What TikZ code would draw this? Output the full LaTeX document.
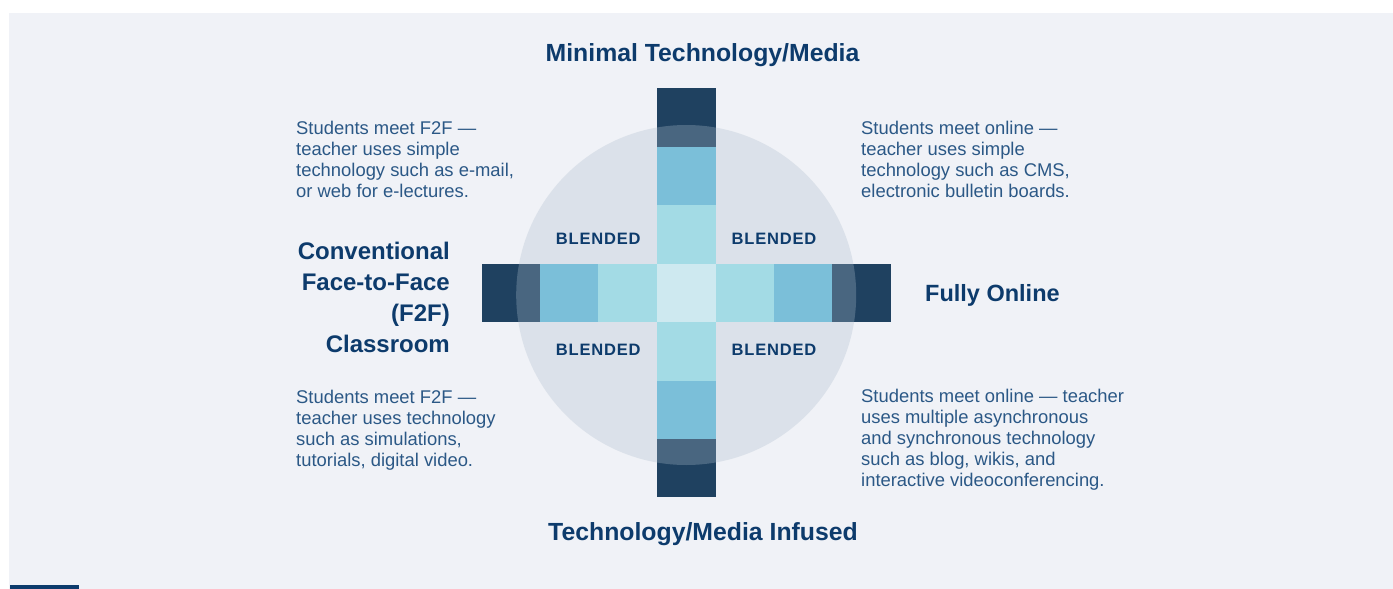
\documentclass[tikz,border=0pt]{standalone}
\usepackage{fontspec}
\setmainfont{Liberation Sans}
\definecolor{panel}{HTML}{F0F2F7}
\definecolor{navy}{HTML}{0D3B6C}
\definecolor{bodytxt}{HTML}{2B5886}
\definecolor{sqdark}{HTML}{1F4160}
\definecolor{sqmed}{HTML}{7BBFD9}
\definecolor{sqlight}{HTML}{A3DBE5}
\definecolor{sqcenter}{HTML}{CEE9F0}
\definecolor{circ}{HTML}{ADBDCC}
\begin{document}
\begin{tikzpicture}[x=1pt,y=-1pt,
  sq/.style={rectangle, minimum size=58.6pt, inner sep=0pt, draw=none},
  title/.style={text=navy, inner sep=0pt, font=\fontsize{24.8}{31}\selectfont\bfseries},
  blend/.style={text=navy, inner sep=0pt, font=\fontsize{16.5}{20}\selectfont\bfseries\addfontfeatures{LetterSpace=5}},
  desc/.style={text=bodytxt, inner sep=0pt, align=left, anchor=base west, font=\fontsize{18.4}{21}\selectfont}]
\useasboundingbox (0,0) rectangle (1393,589);
\fill[white] (0,0) rectangle (1393,589);
\fill[panel] (9,13) rectangle (1393,589);
\fill[navy] (10,585) rectangle (79,589);
% dark end squares
\node[sq, fill=sqdark] (top)    at (686.2,117.45) {};
\node[sq, fill=sqdark] (bottom) at (686.2,468.15) {};
\node[sq, fill=sqdark] (left)   at (510.85,292.8) {};
\node[sq, fill=sqdark] (right)  at (861.55,292.8) {};
% translucent circle
\node[circle, minimum size=340pt, inner sep=0pt, fill=circ, fill opacity=0.3, draw=none] (ring) at (686.2,295) {};
% inner squares
\node[sq, fill=sqmed] (tmed) at (686.2,175.9) {};
\node[sq, fill=sqmed] (bmed) at (686.2,409.7) {};
\node[sq, fill=sqmed] (lmed) at (569.3,292.8) {};
\node[sq, fill=sqmed] (rmed) at (803.1,292.8) {};
\node[sq, fill=sqlight] (tlight) at (686.2,234.35) {};
\node[sq, fill=sqlight] (blight) at (686.2,351.25) {};
\node[sq, fill=sqlight] (llight) at (627.75,292.8) {};
\node[sq, fill=sqlight] (rlight) at (744.65,292.8) {};
\node[sq, fill=sqcenter] (center) at (686.2,292.8) {};
% BLENDED labels
\node[blend, anchor=base] (bl1) at (598.3,244) {BLENDED};
\node[blend, anchor=base] (bl2) at (774,244) {BLENDED};
\node[blend, anchor=base] (bl3) at (598.3,355) {BLENDED};
\node[blend, anchor=base] (bl4) at (774,355) {BLENDED};
% titles
\node[title, anchor=base] (ttop) at (702.5,61.7) {Minimal Technology/Media};
\node[title, anchor=base] (tbot) at (703,540) {Technology/Media Infused};
\node[title, anchor=base west, font=\fontsize{23.5}{31}\selectfont\bfseries] (tright) at (925,301.7) {Fully Online};
\node[title, anchor=base east, align=right, font=\fontsize{24}{31}\selectfont\bfseries] (tleft) at (450,352.3) {Conventional\\Face-to-Face\\(F2F)\\Classroom};
% descriptions (anchor = baseline of last line)
\node[desc] (dtl) at (296,197.3) {Students meet F2F —\\teacher uses simple\\technology such as e-mail,\\or web for e-lectures.};
\node[desc] (dtr) at (861,197.5) {Students meet online —\\teacher uses simple\\technology such as CMS,\\electronic bulletin boards.};
\node[desc] (dbl) at (296,466) {Students meet F2F —\\teacher uses technology\\such as simulations,\\tutorials, digital video.};
\node[desc] (dbr) at (861,486) {Students meet online — teacher\\uses multiple asynchronous\\and synchronous technology\\such as blog, wikis, and\\interactive videoconferencing.};
\end{tikzpicture}
\end{document}
